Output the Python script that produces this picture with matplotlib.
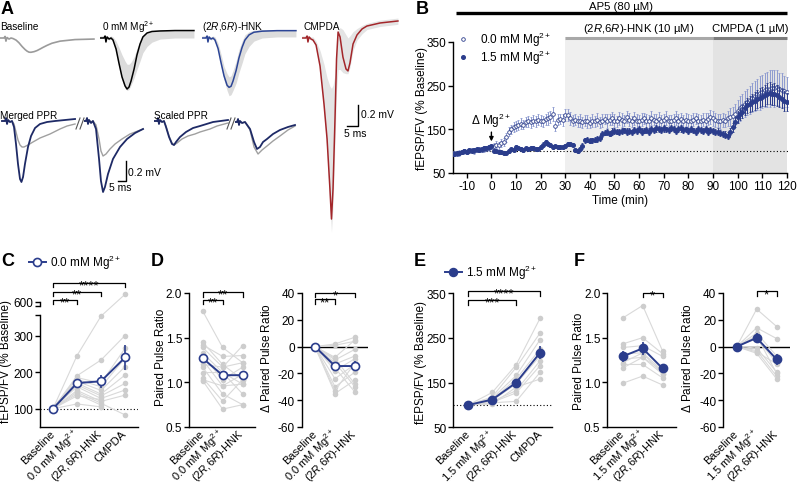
import numpy as np
import matplotlib.pyplot as plt
import matplotlib.transforms as mtransforms
from matplotlib.lines import Line2D
from matplotlib.ticker import FormatStrFormatter

plt.rcParams['font.family'] = ['Liberation Sans', 'DejaVu Sans']
plt.rcParams['mathtext.fontset'] = 'custom'
plt.rcParams['mathtext.rm'] = 'Liberation Sans'
plt.rcParams['mathtext.it'] = 'Liberation Sans:italic'
plt.rcParams['mathtext.default'] = 'regular'
plt.rcParams['font.size'] = 8.5
plt.rcParams['axes.linewidth'] = 1.0
plt.rcParams['axes.unicode_minus'] = False

NAVY = '#2b3d8c'
LIGHT = '#8e9bd0'
DOT = '#cdcdcd'
HNK = '($\\mathit{2R}$,$\\mathit{6R}$)-HNK'
MG = 'Mg$^{2+}$'
FS = 8.5      # ticks and axis labels
FC = 8.0      # category labels

# ---- A: example traces (ms, mV) ----
a_t = [0, 1.8, 2.3, 2.7, 3.2, 4.1, 5.0, 5.9, 7.3, 8.6, 10.0, 11.4, 12.3, 13.2, 14.1, 15.5, 16.8, 18.2, 19.5, 21.4, 23.6, 27.3, 34.1, 42.7]
base_v = [0, 0, 0.015, -0.03, 0.005, -0.01, 0, -0.005, -0.02, -0.045, -0.08, -0.11, -0.125, -0.135, -0.136, -0.13, -0.12, -0.105, -0.09, -0.07, -0.05, -0.03, -0.015, -0.01]
mg0_v = [0, 0, 0.019, -0.038, 0.01, -0.01, 0, -0.019, -0.105, -0.238, -0.371, -0.457, -0.486, -0.467, -0.410, -0.295, -0.162, -0.057, 0.010, 0.048, 0.062, 0.067, 0.071, 0.071]
mg0_lo = [0, 0, 0.01, -0.04, 0, -0.02, -0.01, -0.03, -0.12, -0.26, -0.40, -0.48, -0.50, -0.49, -0.45, -0.38, -0.30, -0.22, -0.14, -0.08, -0.04, -0.01, 0.0, 0.0]
mg0_hi = [0.02, 0.02, 0.03, 0, 0.02, 0.01, 0.02, 0.01, -0.03, -0.09, -0.16, -0.22, -0.25, -0.25, -0.23, -0.18, -0.10, -0.03, 0.02, 0.05, 0.07, 0.075, 0.075, 0.075]
hnk_v = [0, 0, 0.019, -0.038, 0.01, -0.01, 0, -0.019, -0.10, -0.23, -0.36, -0.45, -0.47, -0.46, -0.41, -0.31, -0.19, -0.09, -0.02, 0.03, 0.055, 0.065, 0.07, 0.07]
hnk_lo = [0, 0, 0.01, -0.04, 0, -0.02, -0.01, -0.03, -0.12, -0.26, -0.40, -0.50, -0.55, -0.54, -0.50, -0.43, -0.33, -0.24, -0.15, -0.08, -0.03, 0, 0.01, 0.01]
hnk_hi = [0.02, 0.02, 0.03, 0, 0.02, 0.01, 0.02, 0.01, -0.05, -0.15, -0.27, -0.34, -0.37, -0.36, -0.31, -0.22, -0.11, -0.03, 0.03, 0.06, 0.075, 0.08, 0.08, 0.08]
cm_t = [0, 1.8, 2.3, 2.7, 3.2, 4.1, 5.0, 6.4, 8.2, 10.0, 11.4, 12.7, 13.4, 14.1, 15.0, 15.7, 16.4, 17.3, 18.6, 20.0, 20.9, 21.8, 23.2, 25.0, 27.3, 29.5, 35.5, 43.6]
cm_v = [0, 0, 0.019, -0.038, 0.01, -0.01, -0.019, -0.067, -0.267, -0.629, -0.962, -1.438, -1.724, -1.438, -0.771, -0.200, 0.057, 0.010, -0.181, -0.295, -0.314, -0.238, -0.057, 0.029, 0.086, 0.114, 0.143, 0.162]
cm_lo = [0, 0, 0.01, -0.04, 0, -0.02, -0.03, -0.09, -0.30, -0.70, -1.10, -1.60, -1.85, -1.60, -1.00, -0.50, -0.30, -0.30, -0.33, -0.34, -0.34, -0.28, -0.12, -0.02, 0.04, 0.08, 0.11, 0.13]
cm_hi = [0.02, 0.02, 0.03, 0, 0.02, 0.01, 0.01, -0.03, -0.12, -0.25, -0.38, -0.46, -0.48, -0.45, -0.35, -0.12, 0.07, 0.10, 0.08, 0.03, 0.0, 0.02, 0.06, 0.09, 0.12, 0.14, 0.17, 0.19]

mp1_t = [1.25, 3.1, 3.75, 4.4, 5, 6.25, 7.5, 8.75, 10, 11.25, 12.5, 13.4, 14.4, 15.6, 17.5, 19.4, 21.9, 25, 29.4, 34.4, 40.6, 46.9]
mp1_blue = [0, 0, 0.03, -0.03, 0.01, -0.01, 0, -0.06, -0.23, -0.43, -0.58, -0.61, -0.56, -0.43, -0.26, -0.15, -0.07, -0.03, -0.01, 0, 0.01, 0.02]
mp1_gt = [1.25, 3.1, 3.75, 4.4, 5, 6.25, 7.5, 8.75, 10, 11.25, 12.5, 13.75, 15, 17.5, 20.6, 25, 31.25, 37.5, 41.9, 46.9]
mp1_gray = [0, 0, 0.02, -0.02, 0.01, -0.01, 0, -0.03, -0.11, -0.19, -0.24, -0.26, -0.26, -0.24, -0.21, -0.17, -0.13, -0.08, -0.05, -0.03]
mp2_t = [0, 1.25, 1.9, 2.5, 3.1, 4.4, 5.6, 7.5, 9.4, 10.6, 11.9, 13.1, 15, 18.1, 22.5, 26.9, 31.9, 36.9]
mp2_blue = [0, 0, 0.03, -0.03, 0.01, -0.02, 0, -0.08, -0.38, -0.60, -0.71, -0.66, -0.53, -0.38, -0.26, -0.18, -0.12, -0.08]
mp2_gt = [0, 1.25, 1.9, 2.5, 3.1, 4.4, 5.6, 7.5, 9.4, 10.6, 11.9, 13.75, 16.25, 19.4, 23.75, 28.75, 36.9]
mp2_gray = [0, 0, 0.02, -0.02, 0.01, -0.01, 0, -0.04, -0.18, -0.30, -0.35, -0.33, -0.28, -0.23, -0.18, -0.13, -0.08]
sp1_t = [0, 1.9, 2.5, 3.1, 3.75, 5, 6.25, 7.5, 9.4, 11.25, 12.5, 13.75, 16.25, 20, 24.4, 28.75, 36.9, 46.25]
sp1_blue = [0, 0, 0.03, -0.03, 0.01, -0.01, 0, -0.06, -0.16, -0.23, -0.24, -0.21, -0.16, -0.11, -0.07, -0.05, -0.01, 0.01]
sp1_gt = [0, 1.9, 2.5, 3.1, 3.75, 5, 6.25, 7.5, 9.4, 11.25, 12.5, 14.4, 17.5, 21.25, 25.6, 28.75, 35, 39.4, 46.25]
sp1_gray = [0, 0, 0.02, -0.02, 0.01, -0.01, 0, -0.05, -0.15, -0.22, -0.24, -0.22, -0.18, -0.15, -0.13, -0.11, -0.08, -0.05, -0.02]
sp2_t = [0, 1.25, 1.9, 2.5, 3.1, 4.4, 6.25, 9.4, 11.9, 13.75, 15.6, 17.5, 20, 23.75, 28.1, 33.1, 37.5]
sp2_blue = [-0.01, -0.01, 0.02, -0.04, 0, -0.02, -0.01, -0.08, -0.21, -0.28, -0.26, -0.21, -0.18, -0.13, -0.09, -0.06, -0.04]
sp2_gt = [0, 1.25, 1.9, 2.5, 3.1, 4.4, 6.25, 9.4, 11.9, 14.4, 16.9, 20, 23.75, 28.1, 33.1, 37.5]
sp2_gray = [-0.01, -0.01, 0.01, -0.03, 0, -0.02, -0.01, -0.09, -0.26, -0.33, -0.29, -0.25, -0.20, -0.15, -0.09, -0.05]

# ---- B: time course ----
b_time = np.arange(-15, 121)
b_open = [95, 93, 96, 98, 100, 99, 101, 103, 100, 102, 104, 103, 105, 106, 107,
          110, 112, 115, 113, 118, 120, 132, 145, 150, 155,
          158, 160, 163, 161, 167, 168, 166, 170, 168, 172,
          170, 168, 173, 175, 178, 185, 158, 172, 174, 172,
          182, 183, 175, 170, 172, 168, 170, 166, 170, 168,
          165, 170, 168, 172, 166, 170, 174, 168, 172, 175,
          170, 168, 175, 172, 170, 178, 172, 168, 175, 170,
          168, 172, 175, 170, 168, 176, 172, 170, 174, 168,
          172, 175, 170, 168, 172, 176, 170, 174, 168, 172,
          170, 168, 172, 175, 170, 168, 172, 170, 174, 178,
          175, 172, 170, 168, 172, 170, 175, 178, 180, 185,
          192, 198, 203, 208, 213, 217, 222, 226, 230, 233,
          236, 240, 242, 243, 245, 244, 246, 242, 240, 237,
          235]
b_open_err = [6, 5, 6, 5, 6, 5, 6, 5, 6, 5, 6, 5, 6, 5, 6,
              6, 7, 8, 8, 9, 9, 10, 10, 11, 11,
              11, 12, 12, 11, 12, 13, 12, 12, 13, 12,
              12, 13, 12, 14, 13, 15, 12, 13, 12, 14,
              14, 13, 14, 12, 13, 12, 14, 13, 12, 14,
              13, 14, 12, 15, 13, 14, 12, 16, 13, 14,
              15, 13, 14, 16, 13, 14, 15, 13, 14, 16,
              14, 15, 13, 16, 14, 15, 13, 14, 16, 15,
              14, 16, 13, 15, 14, 16, 15, 13, 14, 15,
              16, 14, 15, 13, 16, 14, 15, 17, 14, 16,
              18, 16, 15, 17, 16, 15, 18, 20, 22, 24,
              26, 28, 28, 30, 30, 32, 33, 35, 36, 38,
              38, 40, 40, 42, 40, 42, 40, 38, 38, 36,
              35]
b_fill = [93, 96, 95, 98, 100, 99, 102, 101, 103, 104, 103, 106, 108, 107, 110,
          111, 101, 100, 99, 97, 96, 96, 100, 104, 103,
          110, 108, 106, 103, 107, 105, 107, 108, 104, 106,
          110, 115, 120, 117, 114, 110, 111, 110, 110, 109,
          112, 116, 116, 115, 102, 100, 106, 112, 125, 126,
          124, 125, 126, 128, 130, 140, 142, 144, 140, 145,
          147, 145, 144, 146, 148, 145, 146, 143, 148, 146,
          150, 145, 147, 149, 145, 150, 148, 152, 150, 148,
          152, 150, 148, 153, 150, 146, 150, 152, 148, 150,
          146, 150, 148, 145, 150, 148, 146, 150, 145, 148,
          146, 144, 145, 142, 140, 138, 135, 145, 155, 167,
          178, 185, 190, 198, 205, 208, 212, 215, 220, 222,
          225, 228, 231, 233, 230, 231, 228, 224, 220, 215,
          212]
b_fill_err = [4, 3, 4, 3, 4, 3, 4, 3, 4, 3, 4, 3, 4, 3, 4,
              4, 4, 3, 4, 3, 4, 3, 4, 4, 3,
              4, 3, 4, 4, 3, 4, 4, 3, 4, 4,
              4, 5, 5, 4, 4, 4, 4, 4, 5, 4,
              4, 5, 4, 4, 5, 5, 4, 6, 6, 6,
              6, 6, 6, 7, 6, 7, 6, 7, 6, 7,
              7, 6, 7, 7, 6, 7, 7, 6, 7, 7,
              7, 7, 6, 7, 7, 7, 6, 7, 7, 7,
              7, 6, 7, 7, 7, 6, 7, 7, 7, 6,
              7, 7, 6, 7, 7, 7, 6, 7, 7, 7,
              7, 7, 7, 7, 7, 8, 8, 9, 10, 12,
              13, 14, 15, 16, 17, 18, 19, 20, 21, 22,
              22, 24, 24, 25, 24, 25, 24, 23, 22, 22,
              21]

# ---- C / D: 0.0 mM Mg ----
c_labels = ['Baseline', '0.0 mM ' + MG, HNK, 'CMPDA']
c_rows = [[100, 245, 353, 620], [100, 190, 233, 300], [100, 185, 170, 265],
          [100, 180, 160, 238], [100, 175, 150, 215], [100, 170, 140, 192],
          [100, 165, 135, 169], [100, 160, 128, 151], [100, 150, 120, 137],
          [100, 145, 115, 83], [100, 140, 110, np.nan], [100, 135, 125, np.nan],
          [100, 113, 105, np.nan]]
c_mean = [100, 170, 175, 240]
c_sem = [0, 10, 18, 35]

d_labels = ['Baseline', '0.0 mM ' + MG, HNK]
d_rows = [[1.80, 1.39, 1.22], [1.45, 1.20, 1.03], [1.42, 1.29, 1.30],
          [1.39, 1.17, 1.41], [1.33, 1.11, 0.98], [1.30, 1.03, 1.17],
          [1.25, 0.96, 1.09], [1.17, 0.87, 0.75], [1.11, 1.11, 0.87],
          [1.05, 0.79, 1.03], [1.02, 0.70, 0.75], [1.03, 0.96, 0.98],
          [1.20, 1.17, 1.22]]
d_mean = [1.27, 1.08, 1.08]
d_sem = [0.05, 0.04, 0.04]
dd_rows = [[0, 2, 7], [0, -8, 5], [0, -10, -2], [0, -13, -7], [0, -18, -9],
           [0, -24, -13], [0, -30, -19], [0, -35, -25], [0, -9, -28],
           [0, -12, -30], [0, -16, -34], [0, -33, -12], [0, 1, 4]]
dd_mean = [0, -14.5, -14.5]
dd_sem = [0, 3, 3.5]

# ---- E / F: 1.5 mM Mg ----
e_labels = ['Baseline', '1.5 mM ' + MG, HNK, 'CMPDA']
e_rows = [[100, 128, 190, 294], [100, 118, 184, 261], [100, 115, 166, 246],
          [100, 112, 158, 225], [100, 110, 147, 210], [100, 108, 132, 199],
          [100, 106, 127, 188], [100, 105, 108, 173], [100, 102, 140, 158]]
e_mean = [100, 112, 150, 217]
e_sem = [0, 3, 9, 15]

f_labels = ['Baseline', '1.5 mM ' + MG, HNK]
f_rows = [[1.72, 1.86, 1.35], [1.43, 1.50, 1.32], [1.39, 1.41, 1.29],
          [1.32, 1.33, 1.13], [1.26, 1.28, 1.09], [1.20, 1.20, 1.05],
          [1.16, 1.28, 1.13], [0.99, 1.07, 0.97], [1.22, 1.33, 1.09]]
f_mean = [1.29, 1.38, 1.155]
f_sem = [0.06, 0.07, 0.03]
fd_rows = [[0, 28, 15], [0, 14, 6], [0, 10, -7], [0, 6, -12], [0, -1, -19],
           [0, -3, -22], [0, -5, -24], [0, 8, -20], [0, -4, -13]]
fd_mean = [0, 6.5, -9.5]
fd_sem = [0, 3.5, 4]

W, H = 798, 489
fig = plt.figure(figsize=(W / 100, H / 100), dpi=100)


def box(x0, y0, x1, y1):
    return [x0 / W, 1 - y1 / H, (x1 - x0) / W, (y1 - y0) / H]


def ftext(x, y, s, **kw):
    fig.text(x / W, 1 - y / H, s, **kw)


def fline(xs, ys, **kw):
    fig.add_artist(Line2D([x / W for x in xs], [1 - y / H for y in ys], **kw))


def trace_ax(x0, x1, ybase, pxms, pxmv, vmin, vmax):
    ax = fig.add_axes(box(x0, ybase - vmax * pxmv, x1, ybase - vmin * pxmv))
    ax.set_xlim(0, (x1 - x0) / pxms)
    ax.set_ylim(vmin, vmax)
    ax.axis('off')
    return ax


# panel letters
for lab, x, y in [('A', 1, 1), ('B', 416, 1), ('C', 1, 253), ('D', 151, 253),
                  ('E', 414, 253), ('F', 574, 253)]:
    ftext(x, y, lab, fontsize=13, fontweight='bold', va='top', ha='left')

# ---------------- A ----------------
ax = trace_ax(0, 95, 39, 2.2, 105, -0.6, 0.2)
ax.plot(a_t, base_v, color='#9b9b9b', lw=1.2)
ax = trace_ax(100, 195, 39, 2.2, 105, -0.6, 0.2)
ax.fill_between(a_t, mg0_lo, mg0_hi, color='#dcdcdc', lw=0)
ax.plot(a_t, mg0_v, color='k', lw=1.1)
ax = trace_ax(202, 297, 39, 2.2, 105, -0.6, 0.2)
ax.fill_between(a_t, hnk_lo, hnk_hi, color='#dcdcdc', lw=0)
ax.plot(a_t, hnk_v, color='#2c4596', lw=1.1)
ax = trace_ax(302, 400, 39, 2.2, 105, -1.9, 0.25)
ax.fill_between(cm_t, cm_lo, cm_hi, color='#e4e4e4', lw=0)
ax.plot(cm_t, cm_v, color='#a3262a', lw=1.1)
ax.plot([20.45, 25.45, 25.45], [-0.838, -0.838, -0.638], color='k', lw=1, clip_on=False)
ax.text(26.8, -0.72, '0.2 mV', ha='left', va='center', fontsize=7.5)
ax.text(24.0, -0.86, '5 ms', ha='center', va='top', fontsize=7.5)

ftext(0, 27, 'Baseline', fontsize=7.2, va='center')
ftext(102, 27, '0 mM ' + MG, fontsize=7.2, va='center')
ftext(202, 27, HNK, fontsize=7.2, va='center')
ftext(303, 27, 'CMPDA', fontsize=7.2, va='center')
ftext(0, 116, 'Merged PPR', fontsize=7.2, va='center')
ftext(154, 116, 'Scaled PPR', fontsize=7.2, va='center')

ax = trace_ax(0, 76, 122, 1.6, 100, -0.8, 0.1)
ax.plot(mp1_gt, mp1_gray, color='#a0a0a0', lw=1.0)
ax.plot(mp1_t, mp1_blue, color='#1e2a66', lw=1.3)
ax = trace_ax(84, 146, 122, 1.6, 100, -0.8, 0.1)
ax.plot(mp2_gt, mp2_gray, color='#a0a0a0', lw=1.0)
ax.plot(mp2_t, mp2_blue, color='#1e2a66', lw=1.3)
ax.plot([21.25, 26.25, 26.25], [-0.597, -0.597, -0.397], color='k', lw=1, clip_on=False)
ax.text(27.5, -0.51, '0.2 mV', ha='left', va='center', fontsize=7.5)
ax.text(22.5, -0.61, '5 ms', ha='center', va='top', fontsize=7.5)
ax = trace_ax(154, 230, 122, 1.6, 100, -0.8, 0.1)
ax.plot(sp1_gt, sp1_gray, color='#a0a0a0', lw=1.0)
ax.plot(sp1_t, sp1_blue, color='#1e2a66', lw=1.3)
ax = trace_ax(235, 297, 122, 1.6, 100, -0.8, 0.1)
ax.plot(sp2_gt, sp2_gray, color='#a0a0a0', lw=1.0)
ax.plot(sp2_t, sp2_blue, color='#1e2a66', lw=1.3)
for bx in (76, 227):
    fline([bx, bx + 4], [130, 119], color='#555555', lw=0.8)
    fline([bx + 4, bx + 8], [130, 119], color='#555555', lw=0.8)

# ---------------- B ----------------
axb = fig.add_axes(box(453, 38, 788, 174))
for s in ['top', 'right']:
    axb.spines[s].set_visible(False)
axb.set_xlim(-15.6, 120.5)
axb.set_ylim(50, 361.4)
axb.spines['left'].set_bounds(50, 350)
axb.spines['bottom'].set_bounds(-15.6, 120)
axb.set_yticks([50, 150, 250, 350])
axb.set_xticks(np.arange(-10, 121, 10))
axb.tick_params(length=3.5, width=1, labelsize=FS, pad=1.5)
axb.axvspan(30, 120, color='#efefef', lw=0, zorder=0)
axb.axvspan(90, 120, color='#e3e3e3', lw=0, zorder=0)
axb.plot([30, 90], [359.5, 359.5], color='#a8a8a8', lw=2.2, solid_capstyle='butt', clip_on=False)
axb.plot([90, 120], [359.5, 359.5], color='#7c7c7c', lw=2.2, solid_capstyle='butt', clip_on=False)
axb.plot([-14.2, 120], [416, 416], color='k', lw=2.4, solid_capstyle='butt', clip_on=False)
axb.text(52.7, 433, 'AP5 (80 µM)', ha='center', va='center', fontsize=8.2)
axb.text(60, 382, HNK + ' (10 µM)', ha='center', va='center', fontsize=8.2)
axb.text(105, 382, 'CMPDA (1 µM)', ha='center', va='center', fontsize=8.2)
axb.axhline(100, color='k', ls=(0, (1, 2)), lw=0.8, zorder=1)
axb.errorbar(b_time, b_open, yerr=b_open_err, fmt='o', ms=2.6, mfc='white', mec=NAVY,
             mew=0.6, ecolor=LIGHT, elinewidth=0.7, capsize=1, capthick=0.6, zorder=3)
axb.errorbar(b_time, b_fill, yerr=b_fill_err, fmt='o', ms=2.6, color=NAVY, mec=NAVY,
             ecolor=NAVY, elinewidth=0.7, capsize=1, capthick=0.6, zorder=4)
axb.text(0, 171, '$\\Delta$ ' + MG, ha='center', va='center', fontsize=FS)
axb.annotate('', xy=(0, 116), xytext=(0, 150),
             arrowprops=dict(arrowstyle='-|>', color='k', lw=1, mutation_scale=6))
axb.set_xlabel('Time (min)', fontsize=FS)
axb.xaxis.set_label_coords(0.5, -0.155)
axb.set_ylabel('fEPSP/FV (% Baseline)', fontsize=FS)
axb.yaxis.set_label_coords(-0.075, 0.485)
hb = [Line2D([], [], ls='none', marker='o', ms=2.6, mfc='white', mec=NAVY, mew=0.6),
      Line2D([], [], ls='none', marker='o', ms=2.6, color=NAVY)]
axb.legend(hb, ['0.0 mM ' + MG, '1.5 mM ' + MG], loc='upper left',
           bbox_to_anchor=(458 / W, 1 - 31 / H), bbox_transform=fig.transFigure,
           frameon=False, handlelength=0.9, handletextpad=1.0, labelspacing=0.0,
           borderpad=0, borderaxespad=0, fontsize=FS)


# ---------------- category panels ----------------
def cat_ax(px, xlim, ylim, yticks, fmt=None):
    ax = fig.add_axes(box(*px))
    for s in ['top', 'right']:
        ax.spines[s].set_visible(False)
    ax.set_xlim(xlim)
    ax.set_ylim(ylim)
    ax.set_yticks(yticks)
    if fmt:
        ax.yaxis.set_major_formatter(FormatStrFormatter(fmt))
    ax.tick_params(axis='y', length=3.5, width=1, labelsize=FS, pad=1.5)
    ax.tick_params(axis='x', length=0, labelsize=FC, pad=3)
    return ax


def paired(ax, rows, mean, sem, labels, open_marker):
    x = np.arange(len(mean))
    for r in rows:
        ax.plot(x, r, '-o', color='#d9d9d9', mfc=DOT, mec='none', ms=4.0, lw=0.8,
                zorder=1, clip_on=False)
    ax.errorbar(x, mean, yerr=sem, color=NAVY, lw=1.4, elinewidth=1.2, capsize=0,
                marker='o', ms=5.8, mfc='white' if open_marker else NAVY, mec=NAVY,
                mew=1.2, zorder=3, clip_on=False)
    ax.set_xticks(x)
    ax.set_xticklabels(labels, rotation=45, ha='right', va='center',
                       rotation_mode='anchor')


def bracket(ax, i0, i1, y, h, stars):
    ax.plot([i0, i0, i1, i1], [y - h, y, y, y - h], color='k', lw=0.9, clip_on=False)
    ax.annotate(stars, xy=((i0 + i1) / 2, y), xytext=(0, -4.0), textcoords='offset points',
                ha='center', va='baseline', fontsize=9.5, annotation_clip=False)


def fwd(y):
    y = np.asarray(y, dtype=float)
    return np.where(y <= 355, y, np.where(y < 575, 355 + (y - 355) * 12.6 / 220,
                                          367.6 + (y - 575)))


def inv(v):
    v = np.asarray(v, dtype=float)
    return np.where(v <= 355, v, np.where(v < 367.6, 355 + (v - 355) * 220 / 12.6,
                                          575 + (v - 367.6)))


# C
axc = fig.add_axes(box(40, 277, 138, 428))
for s in ['top', 'right']:
    axc.spines[s].set_visible(False)
axc.set_yscale('function', functions=(fwd, inv))
axc.set_xlim(-0.54, 3.54)
axc.set_ylim(50, 670)
axc.spines['left'].set_bounds(50, 355)
axc.set_yticks([100, 200, 300, 355, 588, 600])
axc.set_yticklabels(['100', '200', '300', '', '', '600'])
axc.minorticks_off()
axc.tick_params(axis='y', length=3.5, width=1, labelsize=FS, pad=1.5)
axc.tick_params(axis='x', length=0, labelsize=FC, pad=3)
axc.plot([0, 0], [588, 600], color='k', lw=1,
         transform=mtransforms.blended_transform_factory(axc.transAxes, axc.transData),
         clip_on=False)
axc.axhline(100, color='k', ls=(0, (1, 2)), lw=0.8, zorder=0)
paired(axc, c_rows, c_mean, c_sem, c_labels, True)
bracket(axc, 0, 1, 605, 12, '**')
bracket(axc, 0, 2, 627, 12, '**')
bracket(axc, 0, 3, 652, 12, '****')
axc.set_ylabel('fEPSP/FV (% Baseline)', fontsize=FS)
axc.yaxis.set_label_coords(-0.29, 0.44)
hc = Line2D([], [], color=NAVY, marker='o', mfc='white', mec=NAVY, ms=5.8, lw=1.4, mew=1.2)
fig.legend([hc], ['0.0 mM ' + MG], loc='center left', bbox_to_anchor=(29 / W, 1 - 263 / H),
           frameon=False, handlelength=1.4, handletextpad=0.4, borderpad=0,
           borderaxespad=0, fontsize=FS)

# D left
axd = cat_ax((189, 294, 255, 428), (-0.68, 2.62), (0.5, 2.0), [0.5, 1.0, 1.5, 2.0], '%.1f')
paired(axd, d_rows, d_mean, d_sem, d_labels, True)
bracket(axd, 0, 1, 1.925, 0.05, '**')
bracket(axd, 0, 2, 2.008, 0.05, '**')
axd.set_ylabel('Paired Pulse Ratio', fontsize=FS)
axd.yaxis.set_label_coords(-0.33, 0.53)

# D right
axdd = cat_ax((301.7, 294, 368, 428), (-0.665, 2.65), (-60, 40), [-60, -40, -20, 0, 20, 40])
axdd.spines['bottom'].set_visible(False)
axdd.axhline(0, color='k', lw=1, zorder=0)
paired(axdd, dd_rows, dd_mean, dd_sem, d_labels, True)
bracket(axdd, 0, 1, 35.2, 3.5, '**')
bracket(axdd, 0, 2, 40.2, 3.5, '*')
axdd.set_ylabel('$\\Delta$ Paired Pulse Ratio', fontsize=FS)
axdd.yaxis.set_label_coords(-0.43, 0.52)

# E
axe = cat_ax((453.3, 294.3, 552, 428.3), (-0.63, 3.5), (50, 350), [50, 150, 250, 350])
axe.axhline(100, color='k', ls=(0, (1, 2)), lw=0.8, zorder=0)
paired(axe, e_rows, e_mean, e_sem, e_labels, False)
bracket(axe, 0, 2, 335, 11, '***')
bracket(axe, 0, 3, 355.8, 11, '****')
axe.set_ylabel('fEPSP/FV (% Baseline)', fontsize=FS)
axe.yaxis.set_label_coords(-0.27, 0.49)
he = Line2D([], [], color=NAVY, marker='o', ms=5.8, lw=1.4)
fig.legend([he], ['1.5 mM ' + MG], loc='center left', bbox_to_anchor=(445 / W, 1 - 273 / H),
           frameon=False, handlelength=1.4, handletextpad=0.4, borderpad=0,
           borderaxespad=0, fontsize=FS)

# F left
axf = cat_ax((607.3, 294, 676, 428), (-0.77, 2.67), (0.5, 2.0), [0.5, 1.0, 1.5, 2.0], '%.1f')
paired(axf, f_rows, f_mean, f_sem, f_labels, False)
bracket(axf, 1, 2, 2.0, 0.05, '*')
axf.set_ylabel('Paired Pulse Ratio', fontsize=FS)
axf.yaxis.set_label_coords(-0.32, 0.5)

# F right
axfd = cat_ax((723.3, 294, 790, 428), (-0.67, 2.67), (-60, 40), [-60, -40, -20, 0, 20, 40])
axfd.spines['bottom'].set_visible(False)
axfd.axhline(0, color='k', lw=1, zorder=0)
paired(axfd, fd_rows, fd_mean, fd_sem, f_labels, False)
bracket(axfd, 1, 2, 41.2, 3.5, '*')
axfd.set_ylabel('$\\Delta$ Paired Pulse Ratio', fontsize=FS)
axfd.yaxis.set_label_coords(-0.44, 0.52)

fig.savefig('out.png', dpi=100)
